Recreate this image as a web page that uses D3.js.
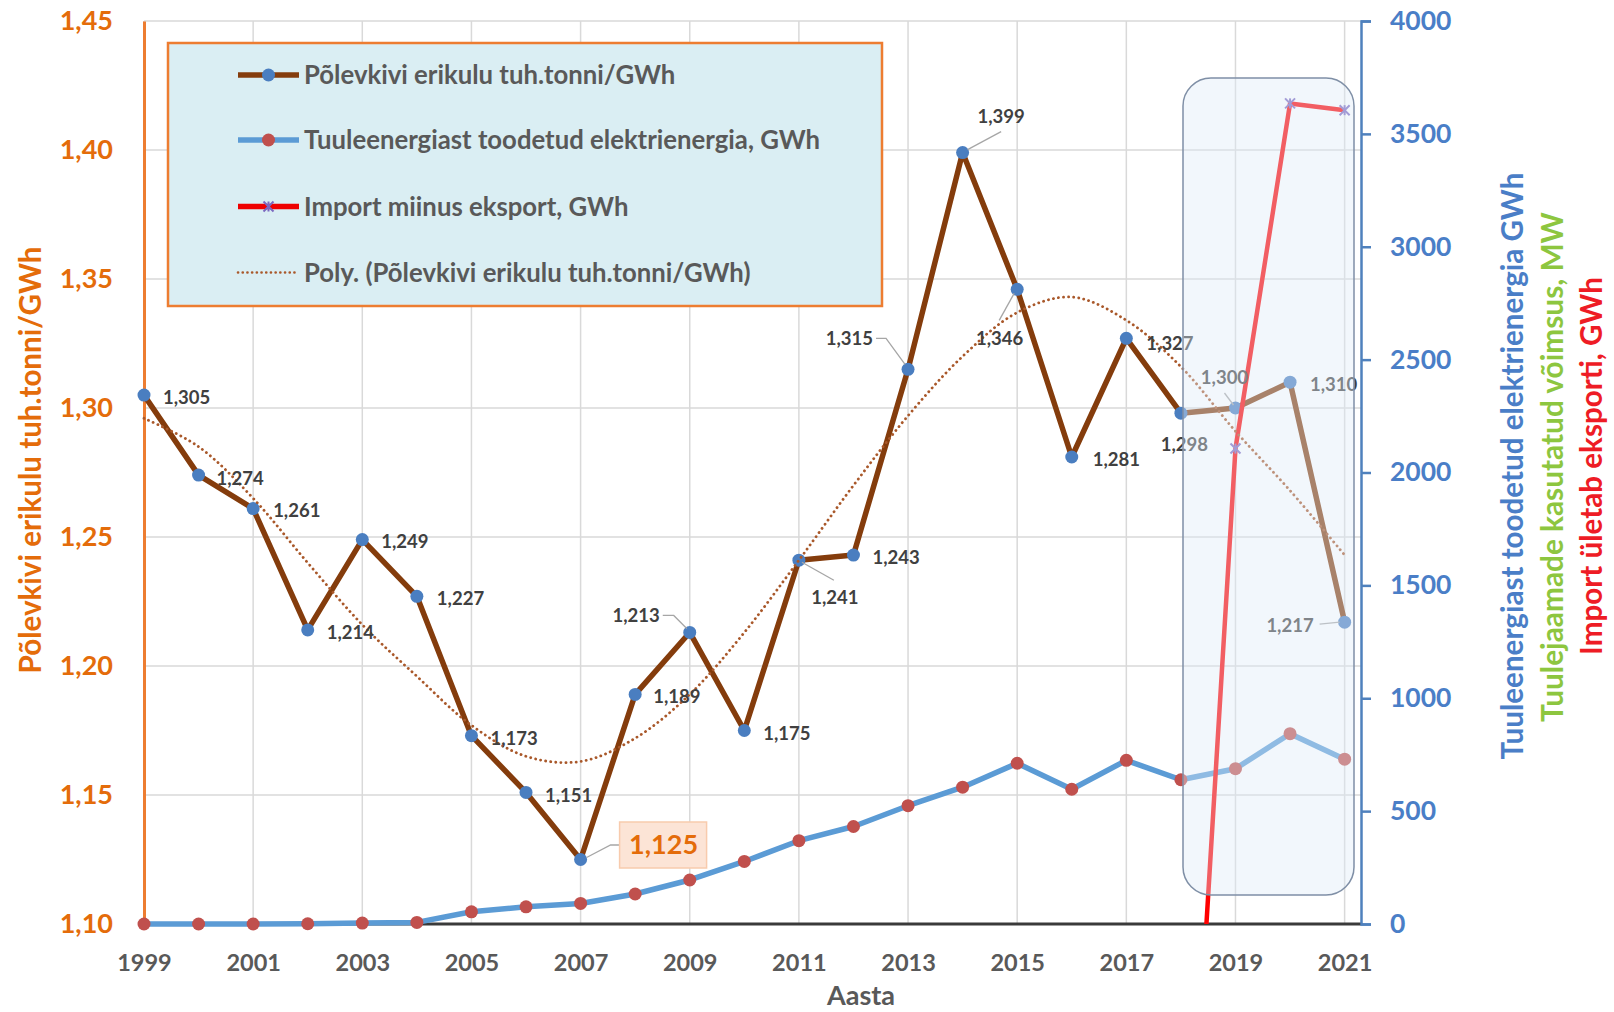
<!DOCTYPE html>
<html>
<head>
<meta charset="utf-8">
<script src="https://cdn.jsdelivr.net/npm/d3@7"></script>
<style>
  html, body { margin: 0; padding: 0; background: #fff; }
  svg { display: block; font-family: Lato, "Open Sans", sans-serif; }
</style>
</head>
<body>
<svg id="chart" width="1614" height="1012"></svg>
<script>
// ---- data -------------------------------------------------------------
const years = [1999, 2000, 2001, 2002, 2003, 2004, 2005, 2006, 2007, 2008, 2009, 2010,
               2011, 2012, 2013, 2014, 2015, 2016, 2017, 2018, 2019, 2020, 2021];
// oil shale specific consumption, thousand tonnes per GWh
const oilShale = [1.305, 1.274, 1.261, 1.214, 1.249, 1.227, 1.173, 1.151, 1.125, 1.189, 1.213, 1.175,
                  1.241, 1.243, 1.315, 1.399, 1.346, 1.281, 1.327, 1.298, 1.300, 1.310, 1.217];
// electricity produced from wind, GWh
const windGWh = [0, 0, 0, 1, 4, 7, 54, 76, 91, 133, 195, 277,
                 369, 432, 524, 606, 712, 597, 725, 639, 688, 843, 730];
// polynomial trend of the oil shale series
const oilShaleTrend = [1.296, 1.285, 1.265, 1.240, 1.216, 1.196, 1.177, 1.165, 1.163, 1.172, 1.189, 1.213,
                       1.241, 1.270, 1.297, 1.320, 1.337, 1.343, 1.334, 1.316, 1.291, 1.268, 1.243];
// import minus export, GWh
const importYears = [2018, 2019, 2020, 2021];
const netImport = [-1850, 2106, 3635, 3605];

const leftTicks = [1.10, 1.15, 1.20, 1.25, 1.30, 1.35, 1.40, 1.45];
const rightTicks = [0, 500, 1000, 1500, 2000, 2500, 3000, 3500, 4000];
const xTickYears = [1999, 2001, 2003, 2005, 2007, 2009, 2011, 2013, 2015, 2017, 2019, 2021];

const legendLabels = [
  "Põlevkivi erikulu tuh.tonni/GWh",
  "Tuuleenergiast toodetud elektrienergia, GWh",
  "Import miinus eksport, GWh",
  "Poly. (Põlevkivi erikulu tuh.tonni/GWh)"
];
const leftTitle = "Põlevkivi erikulu tuh.tonni/GWh";
const rightTitles = [
  "Tuuleenergiast toodetud elektrienergia GWh",
  "Tuulejaamade kasutatud võimsus, MW",
  "Import ületab eksporti, GWh"
];
const xTitle = "Aasta";

// ---- layout -----------------------------------------------------------
const plot = { left: 144, right: 1361, top: 21, bottom: 924 };
const C = {
  brown: "#843C0C", blueDot: "#4A7EC0", wind: "#5B9BD5", redDot: "#C0504D",
  red: "#FF0000", star: "#7B68C0", trend: "#A9582A", grid: "#D9D9D9",
  orange: "#E46C0A", axisBlue: "#4F81BD", tickBlue: "#4A7EC7",
  green: "#8DC63F", titleRed: "#EE1C25", text: "#404040", legendText: "#595959"
};

const svg = d3.select("#chart");
const x = d3.scaleLinear().domain([1999, 2021.3]).range([plot.left, plot.right]);
const yL = d3.scaleLinear().domain([1.10, 1.45]).range([plot.bottom, plot.top]);
const yR = d3.scaleLinear().domain([0, 4000]).range([plot.bottom, plot.top]);

const fmt = v => d3.format(".3f")(v).replace(".", ",");
const fmt2 = v => d3.format(".2f")(v).replace(".", ",");

svg.append("defs").append("clipPath").attr("id", "plotClip")
  .append("rect")
  .attr("x", plot.left).attr("y", plot.top)
  .attr("width", plot.right - plot.left).attr("height", plot.bottom - plot.top);

// shrink/grow a text's font so it spans the wanted length
function fitText(sel, target) {
  const node = sel.node();
  const fs = parseFloat(sel.attr("font-size"));
  const len = node.getComputedTextLength();
  sel.attr("font-size", (fs * target / len).toFixed(2));
}

// ---- grid -------------------------------------------------------------
const grid = svg.append("g");
grid.selectAll("line.h").data(leftTicks).join("line")
  .attr("x1", plot.left).attr("x2", plot.right)
  .attr("y1", d => yL(d)).attr("y2", d => yL(d))
  .attr("stroke", C.grid).attr("stroke-width", 1.5);
grid.selectAll("line.v").data(xTickYears).join("line")
  .attr("x1", d => x(d)).attr("x2", d => x(d))
  .attr("y1", plot.top).attr("y2", plot.bottom)
  .attr("stroke", C.grid).attr("stroke-width", 1.5);

// x axis baseline
svg.append("line")
  .attr("x1", plot.left).attr("x2", plot.right)
  .attr("y1", plot.bottom).attr("y2", plot.bottom)
  .attr("stroke", "#3a3a3a").attr("stroke-width", 3);

// ---- axes -------------------------------------------------------------
const leftAxis = d3.axisLeft(yL).tickValues(leftTicks).tickSize(0).tickPadding(31).tickFormat(fmt2);
const gL = svg.append("g").attr("transform", `translate(${plot.left},0)`).call(leftAxis);
gL.select(".domain").attr("stroke", "#ED7D31").attr("stroke-width", 3);
gL.selectAll("text").attr("fill", C.orange).attr("font-size", 27).attr("font-weight", "bold")
  .attr("font-family", "Lato, sans-serif");

const rightAxis = d3.axisRight(yR).tickValues(rightTicks).tickSize(10).tickPadding(19)
  .tickFormat(d3.format("d"));
const gR = svg.append("g").attr("transform", `translate(${plot.right},0)`).call(rightAxis);
gR.select(".domain").attr("stroke", C.axisBlue).attr("stroke-width", 2.5);
gR.selectAll(".tick line").attr("stroke", C.axisBlue).attr("stroke-width", 2.5);
gR.selectAll("text").attr("fill", C.tickBlue).attr("font-size", 26.5).attr("font-weight", "bold")
  .attr("font-family", "Lato, sans-serif");

const bottomAxis = d3.axisBottom(x).tickValues(xTickYears).tickSize(0).tickPadding(30).tickFormat(d3.format("d"));
const gB = svg.append("g").attr("transform", `translate(0,${plot.bottom})`).call(bottomAxis);
gB.select(".domain").remove();
gB.selectAll("text").attr("fill", "#595959").attr("font-size", 23.5).attr("font-weight", "bold")
  .attr("font-family", "Lato, sans-serif");

// axis titles
svg.append("text").text(xTitle)
  .attr("x", 861).attr("y", 996).attr("text-anchor", "middle").attr("dy", "0.35em")
  .attr("fill", "#595959").attr("font-size", 27).attr("font-weight", "bold");

const lt = svg.append("text").text(leftTitle)
  .attr("transform", "translate(31,460) rotate(-90)")
  .attr("text-anchor", "middle").attr("dy", "0.35em")
  .attr("fill", C.orange).attr("font-size", 26).attr("font-weight", "bold");
fitText(lt, 427);

const rtSpec = [
  { x: 1513, y: 466, len: 587, color: C.tickBlue },
  { x: 1553, y: 467, len: 510, color: C.green },
  { x: 1592, y: 466, len: 378, color: C.titleRed }
];
rightTitles.forEach((t, i) => {
  const s = rtSpec[i];
  const el = svg.append("text").text(t)
    .attr("transform", `translate(${s.x},${s.y}) rotate(-90)`)
    .attr("text-anchor", "middle").attr("dy", "0.35em")
    .attr("fill", s.color).attr("font-size", 26).attr("font-weight", "bold");
  fitText(el, s.len);
});

// ---- series -----------------------------------------------------------
const series = svg.append("g");

const windPts = years.map((yr, i) => [x(yr), yR(windGWh[i])]);
series.append("path").attr("d", d3.line()(windPts))
  .attr("fill", "none").attr("stroke", C.wind).attr("stroke-width", 5.5)
  .attr("stroke-linejoin", "round");
series.selectAll("circle.wind").data(windPts).join("circle")
  .attr("cx", d => d[0]).attr("cy", d => d[1]).attr("r", 6.5).attr("fill", C.redDot);

const shalePts = years.map((yr, i) => [x(yr), yL(oilShale[i])]);
series.append("path").attr("d", d3.line()(shalePts))
  .attr("fill", "none").attr("stroke", C.brown).attr("stroke-width", 5.5)
  .attr("stroke-linejoin", "round");
series.selectAll("circle.shale").data(shalePts).join("circle")
  .attr("cx", d => d[0]).attr("cy", d => d[1]).attr("r", 6.5).attr("fill", C.blueDot);

// net import leaves the axis range, so it is clipped to the plot area
const importPts = importYears.map((yr, i) => [x(yr), yR(netImport[i])]);
series.append("path").attr("d", d3.line()(importPts))
  .attr("clip-path", "url(#plotClip)")
  .attr("fill", "none").attr("stroke", C.red).attr("stroke-width", 4.5);
function star(g, cx, cy, r) {
  const s = g.append("g").attr("transform", `translate(${cx},${cy})`)
    .attr("stroke", C.star).attr("stroke-width", 2);
  s.append("line").attr("x1", -r).attr("y1", -r).attr("x2", r).attr("y2", r);
  s.append("line").attr("x1", -r).attr("y1", r).attr("x2", r).attr("y2", -r);
  s.append("line").attr("x1", 0).attr("y1", -r).attr("x2", 0).attr("y2", r);
}
importPts.forEach(p => { if (p[1] < plot.bottom) star(series, p[0], p[1], 5); });

const trendPts = years.map((yr, i) => [x(yr), yL(oilShaleTrend[i])]);
series.append("path").attr("d", d3.line().curve(d3.curveCatmullRom)(trendPts))
  .attr("fill", "none").attr("stroke", C.trend).attr("stroke-width", 2.8)
  .attr("stroke-dasharray", "0.1 5").attr("stroke-linecap", "round");

// ---- data labels ------------------------------------------------------
// placement per year: side of the point and optional leader line
const labelPlacement = {
  1999: { dx: 19, dy: 2 }, 2000: { dx: 18, dy: 3 }, 2001: { dx: 20, dy: 2 },
  2002: { dx: 19, dy: 3 }, 2003: { dx: 19, dy: 2 }, 2004: { dx: 20, dy: 2 },
  2005: { dx: 19, dy: 3 }, 2006: { dx: 19, dy: 3 }, 2008: { dx: 18, dy: 2 },
  2009: { dx: -30, dy: -17, anchor: "end", leader: [[-27, -17], [-16, -17], [-3, -4]] },
  2010: { dx: 19, dy: 3 },
  2011: { dx: 36, dy: 37, anchor: "middle", leader: [[3, 2], [35, 20]] },
  2012: { dx: 19, dy: 2 },
  2013: { dx: -35, dy: -31, anchor: "end", leader: [[-32, -31], [-22, -31], [-3, -5]] },
  2014: { dx: 38.5, dy: -36, anchor: "middle", leader: [[5, -3], [38.5, -21]] },
  2015: { dx: -17.5, dy: 49, anchor: "middle", leader: [[-3, 4], [-18, 31]] },
  2016: { dx: 21, dy: 3 }, 2017: { dx: 20, dy: 5 },
  2018: { dx: 3.5, dy: 31, anchor: "middle" },
  2019: { dx: -11, dy: -30, anchor: "middle", leader: [[-2, -3], [-11, -15]] },
  2020: { dx: 20, dy: 2 },
  2021: { dx: -31, dy: 3, anchor: "end", leader: [[-25, 2], [-5, 0]] }
};

const labels = svg.append("g");
years.forEach((yr, i) => {
  const px = x(yr), py = yL(oilShale[i]);
  if (yr === 2007) {
    // highlighted minimum
    labels.append("path")
      .attr("d", d3.line()([[px + 6, py - 2], [px + 30, py - 14.5], [px + 39, py - 14.5]]))
      .attr("fill", "none").attr("stroke", "#A6A6A6").attr("stroke-width", 1.3);
    labels.append("rect")
      .attr("x", px + 39).attr("y", py - 37.5).attr("width", 87).attr("height", 46)
      .attr("fill", "#FCE4D6").attr("stroke", "#F8CBAD").attr("stroke-width", 1.5);
    labels.append("text").text(fmt(oilShale[i]))
      .attr("x", px + 83).attr("y", py - 14.5).attr("dy", "0.35em")
      .attr("text-anchor", "middle").attr("fill", C.orange)
      .attr("font-size", 27).attr("font-weight", "bold");
    return;
  }
  const p = labelPlacement[yr];
  if (p.leader) {
    labels.append("path")
      .attr("d", d3.line()(p.leader.map(q => [px + q[0], py + q[1]])))
      .attr("fill", "none").attr("stroke", "#A6A6A6").attr("stroke-width", 1.3);
  }
  labels.append("text").text(fmt(oilShale[i]))
    .attr("x", px + p.dx).attr("y", py + p.dy).attr("dy", "0.35em")
    .attr("text-anchor", p.anchor || "start")
    .attr("fill", C.text).attr("font-size", 18.5).attr("font-weight", "bold");
});

// ---- legend -----------------------------------------------------------
const legend = svg.append("g");
legend.append("rect")
  .attr("x", 168).attr("y", 43).attr("width", 714).attr("height", 263)
  .attr("fill", "#DAEEF3").attr("stroke", "#ED7D31").attr("stroke-width", 2.5);
const rowY = [75, 140, 206.5, 272.5];
const symX0 = 238, symX1 = 299, symMid = 268.5;

// row 1: oil shale
legend.append("line").attr("x1", symX0).attr("x2", symX1).attr("y1", rowY[0]).attr("y2", rowY[0])
  .attr("stroke", C.brown).attr("stroke-width", 5.5);
legend.append("circle").attr("cx", symMid).attr("cy", rowY[0]).attr("r", 6.5).attr("fill", C.blueDot);
// row 2: wind
legend.append("line").attr("x1", symX0).attr("x2", symX1).attr("y1", rowY[1]).attr("y2", rowY[1])
  .attr("stroke", C.wind).attr("stroke-width", 5.5);
legend.append("circle").attr("cx", symMid).attr("cy", rowY[1]).attr("r", 6.5).attr("fill", C.redDot);
// row 3: import
legend.append("line").attr("x1", symX0).attr("x2", symX1).attr("y1", rowY[2]).attr("y2", rowY[2])
  .attr("stroke", "#EE0000").attr("stroke-width", 5.5);
star(legend, symMid, rowY[2], 5);
// row 4: trend
legend.append("line").attr("x1", symX0).attr("x2", symX1 - 3).attr("y1", rowY[3]).attr("y2", rowY[3])
  .attr("stroke", C.trend).attr("stroke-width", 2.6)
  .attr("stroke-dasharray", "0.1 4.6").attr("stroke-linecap", "round");

const legendTexts = legendLabels.map((t, i) =>
  legend.append("text").text(t)
    .attr("x", 304).attr("y", rowY[i]).attr("dy", "0.35em")
    .attr("fill", C.legendText).attr("font-size", 24).attr("font-weight", "bold"));
fitText(legendTexts[1], 516);
legendTexts.forEach(t => t.attr("font-size", legendTexts[1].attr("font-size")));

// ---- highlighted recent years ---------------------------------------
svg.append("rect")
  .attr("x", 1183).attr("y", 78).attr("width", 171).attr("height", 817)
  .attr("rx", 28).attr("ry", 28)
  .attr("fill", "#DEEBF7").attr("fill-opacity", 0.4)
  .attr("stroke", "#7F8FA6").attr("stroke-width", 1.5);
</script>
</body>
</html>
